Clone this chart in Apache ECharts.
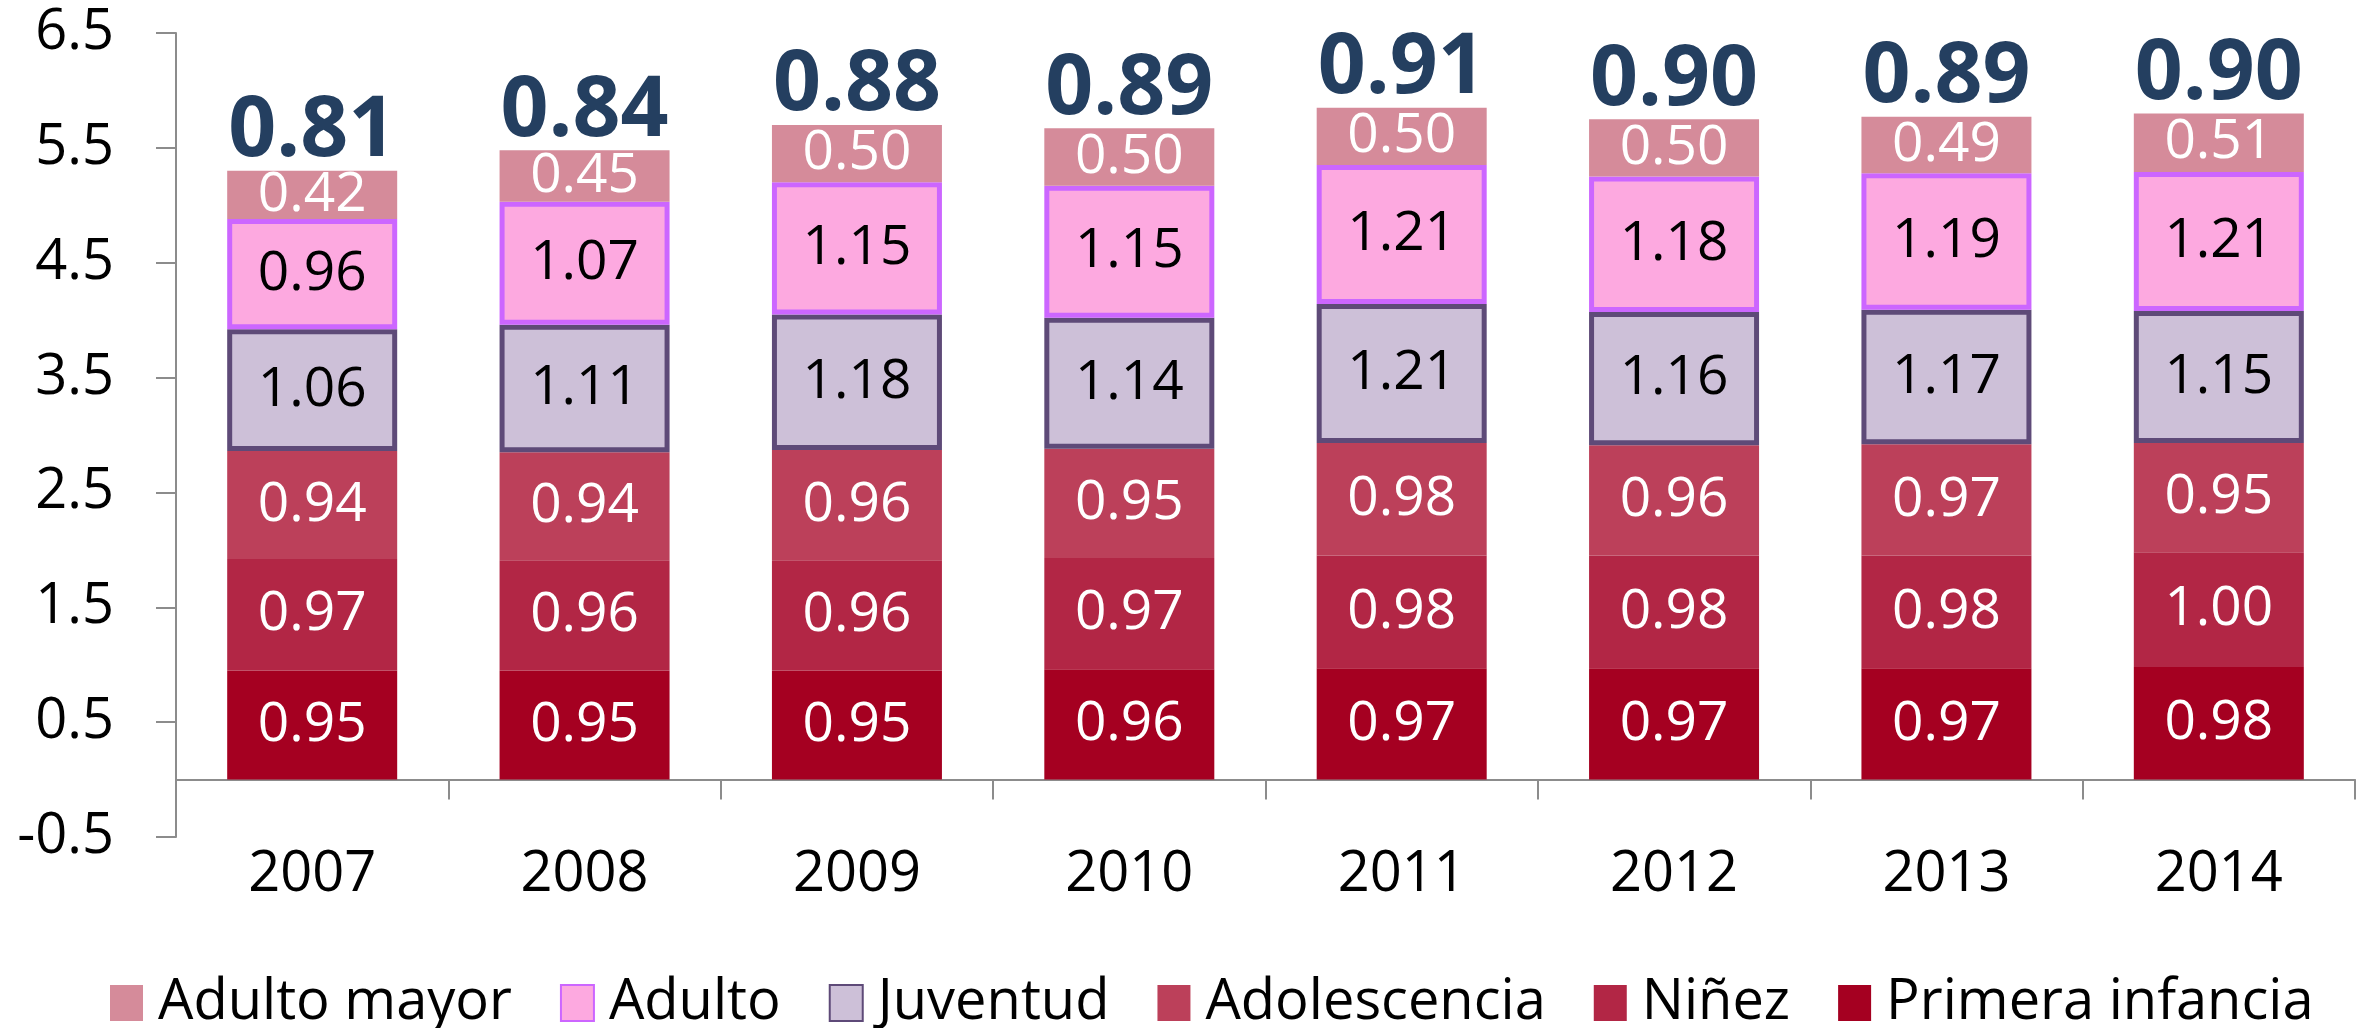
<!DOCTYPE html>
<html>
<head>
<meta charset="utf-8">
<script src="https://cdn.jsdelivr.net/npm/echarts@6/dist/echarts.min.js"></script>
<style>
    html, body { margin: 0; padding: 0; background: #fff; }
    #main { width: 2364px; height: 1028px; }
</style>
</head>
<body>
<div id="main"></div>
<script>
const years = ["2007", "2008", "2009", "2010", "2011", "2012", "2013", "2014"];
const primeraInfancia = [0.95, 0.95, 0.95, 0.96, 0.97, 0.97, 0.97, 0.98];
const ninez = [0.97, 0.96, 0.96, 0.97, 0.98, 0.98, 0.98, 1.0];
const adolescencia = [0.94, 0.94, 0.96, 0.95, 0.98, 0.96, 0.97, 0.95];
const juventud = [1.06, 1.11, 1.18, 1.14, 1.21, 1.16, 1.17, 1.15];
const adulto = [0.96, 1.07, 1.15, 1.15, 1.21, 1.18, 1.19, 1.21];
const adultoMayor = [0.42, 0.45, 0.5, 0.5, 0.5, 0.5, 0.49, 0.51];
const totales = [0.81, 0.84, 0.88, 0.89, 0.91, 0.9, 0.89, 0.9];
const yTicks = [-0.5, 0.5, 1.5, 2.5, 3.5, 4.5, 5.5, 6.5];

const font = "Open Sans";

// top of each stack, so the total label sits over the bar
const alturas = years.map((y, i) =>
    primeraInfancia[i] + ninez[i] + adolescencia[i] + juventud[i] + adulto[i] + adultoMayor[i]
);

function capa(name, data, color, labelColor, border) {
    let s = {
        name: name,
        type: "bar",
        stack: "total",
        barWidth: 170,
        data: data,
        itemStyle: { color: color },
        label: {
            show: true,
            position: "inside",
            color: labelColor,
            fontFamily: font,
            fontSize: 55,
            formatter: (p) => p.value.toFixed(2),
        },
    };
    if (border) {
        s.itemStyle.borderColor = border;
        s.itemStyle.borderWidth = 5;
    }
    return s;
}

let option = {
    animation: false,
    textStyle: { fontFamily: font },
    grid: { left: 176, right: 9, top: 33, bottom: 191 },
    legend: {
        data: ["Adulto mayor", "Adulto", "Juventud", "Adolescencia", "Niñez", "Primera infancia"],
        icon: "rect",
        left: 105,
        top: 970,
        itemWidth: 33,
        itemHeight: 36,
        itemGap: 48,
        textStyle: {
            fontFamily: font,
            fontSize: 56,
            color: "#000",
            padding: [0, 0, 0, 10],
        },
    },
    xAxis: {
        type: "category",
        data: years,
        axisLine: { onZero: true, lineStyle: { color: "#8c8c8c", width: 2 } },
        axisTick: { show: true, alignWithLabel: false, length: 20, lineStyle: { color: "#8c8c8c", width: 2 } },
        axisLabel: { color: "#000", fontFamily: font, fontSize: 56, margin: 10 },
    },
    yAxis: {
        type: "value",
        min: -0.5,
        max: 6.5,
        splitLine: { show: false },
        axisLine: { show: true, lineStyle: { color: "#8c8c8c", width: 2 } },
        axisTick: {
            show: true,
            length: 20,
            customValues: yTicks,
            lineStyle: { color: "#8c8c8c", width: 2 },
        },
        axisLabel: {
            color: "#000",
            fontFamily: font,
            fontSize: 56,
            margin: 62,
            customValues: yTicks,
            formatter: (v) => v.toFixed(1),
        },
    },
    series: [
        capa("Primera infancia", primeraInfancia, "#A50021", "#fff"),
        capa("Niñez", ninez, "#B22645", "#fff"),
        capa("Adolescencia", adolescencia, "#BC405A", "#fff"),
        capa("Juventud", juventud, "#CDC0D8", "#000", "#5E4A78"),
        capa("Adulto", adulto, "#FDA9E0", "#000", "#CC66FF"),
        capa("Adulto mayor", adultoMayor, "#D58B9A", "#fff"),
        {
            name: "total",
            type: "scatter",
            symbolSize: 1,
            itemStyle: { color: "rgba(0,0,0,0)", opacity: 1 },
            data: years.map((y, i) => [y, alturas[i], totales[i]]),
            label: {
                show: true,
                position: "top",
                distance: -4,
                color: "#243F60",
                fontFamily: font,
                fontWeight: "bold",
                fontSize: 84,
                formatter: (p) => p.data[2].toFixed(2),
            },
        },
    ],
};

var myChart = echarts.init(document.getElementById("main"));
myChart.setOption(option);
</script>
</body>
</html>
